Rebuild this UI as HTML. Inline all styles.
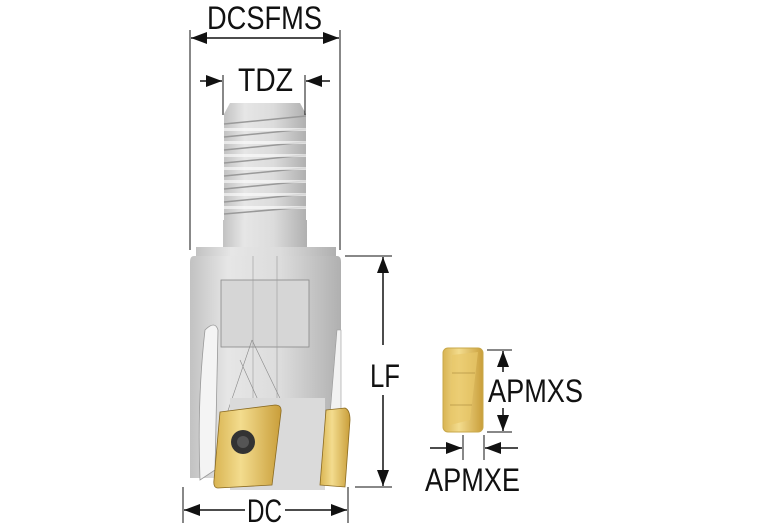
<!DOCTYPE html>
<html><head><style>html,body{margin:0;padding:0;background:#fff;}svg{display:block}</style></head>
<body>
<svg width="767" height="523" viewBox="0 0 767 523" xmlns="http://www.w3.org/2000/svg" font-family="Liberation Sans, sans-serif">
<defs>
<linearGradient id="metal" x1="0" x2="1" y1="0" y2="0">
<stop offset="0" stop-color="#c2c2c2"/><stop offset="0.25" stop-color="#e6e6e6"/><stop offset="0.6" stop-color="#dcdcdc"/><stop offset="1" stop-color="#b0b0b0"/>
</linearGradient>
<linearGradient id="gold" x1="0" x2="1" y1="0" y2="0">
<stop offset="0" stop-color="#d9b452"/><stop offset="0.4" stop-color="#f3dc8e"/><stop offset="1" stop-color="#c99e3a"/>
</linearGradient>
<marker id="ar" viewBox="0 0 16 12" refX="16" refY="6" markerWidth="16" markerHeight="12" markerUnits="userSpaceOnUse" orient="auto"><path d="M0,0L16,6L0,12z" fill="#111"/></marker>
</defs>
<!-- thread -->
<path d="M230,103 L300,103 L306,114 L306,220 L224,220 L224,114 Z" fill="url(#metal)"/>
<g stroke="#999" stroke-width="1.5" fill="none">
<path d="M224,124 L306,116"/><path d="M224,137 L306,129"/><path d="M224,150 L306,142"/><path d="M224,163 L306,155"/><path d="M224,176 L306,168"/><path d="M224,189 L306,181"/><path d="M224,202 L306,194"/><path d="M224,214 L306,207"/>
</g>
<g fill="#fff" opacity="0.6">
<rect x="224" y="128" width="82" height="3"/><rect x="224" y="141" width="82" height="3"/><rect x="224" y="154" width="82" height="3"/><rect x="224" y="167" width="82" height="3"/><rect x="224" y="180" width="82" height="3"/><rect x="224" y="193" width="82" height="3"/><rect x="224" y="206" width="82" height="3"/>
</g>
<rect x="223" y="220" width="84" height="28" fill="url(#metal)"/>
<rect x="196" y="247" width="140" height="9" fill="url(#metal)"/>
<!-- body -->
<path d="M194,256 L337,256 Q341,256 341,262 L341,478 L190,478 L190,262 Q190,256 194,256 Z" fill="url(#metal)"/>
<rect x="221" y="280" width="88" height="67" fill="#d6d6d6" stroke="#888" stroke-width="0.8"/>
<line x1="253" y1="256" x2="253" y2="470" stroke="#999" stroke-width="0.6"/>
<line x1="277" y1="256" x2="277" y2="470" stroke="#999" stroke-width="0.6"/>
<path d="M205,330 Q215,320 218,330 L215,470 L200,480 Q197,400 205,330Z" fill="#f4f4f4" stroke="#999" stroke-width="0.8"/>
<path d="M337,330 L341,330 L341,410 L330,415 Z" fill="#f2f2f2" stroke="#999" stroke-width="0.6"/>
<path d="M252,340 L300,440 M252,340 L218,440 M240,360 L285,460" stroke="#888" stroke-width="0.6" fill="none"/>
<rect x="230" y="398" width="95" height="92" fill="#dadada"/>
<!-- inserts -->
<path d="M220,412 L275,405 Q282,405 281,412 L272,485 L218,488 Q213,488 214,480 Z" fill="url(#gold)" stroke="#8a6a20" stroke-width="0.8"/>
<circle cx="243" cy="442" r="12" fill="#333"/><circle cx="243" cy="442" r="6" fill="#555"/>
<path d="M326,410 L345,408 Q350,410 350,420 L345,487 L320,485 Z" fill="url(#gold)" stroke="#8a6a20" stroke-width="0.8"/>
<!-- dimension lines -->
<g stroke="#111" stroke-width="1" fill="none">
<line x1="190" y1="30" x2="190" y2="250"/><line x1="340" y1="30" x2="340" y2="250"/>
<line x1="265" y1="38" x2="191" y2="38" stroke-width="1.5" marker-end="url(#ar)"/>
<line x1="265" y1="38" x2="339" y2="38" stroke-width="1.5" marker-end="url(#ar)"/>
<line x1="223" y1="75" x2="223" y2="115"/><line x1="305" y1="75" x2="305" y2="115"/>
<line x1="200" y1="81" x2="222" y2="81" stroke-width="1.5" marker-end="url(#ar)"/>
<line x1="330" y1="81" x2="306" y2="81" stroke-width="1.5" marker-end="url(#ar)"/>
<line x1="345" y1="256" x2="392" y2="256"/><line x1="355" y1="487" x2="392" y2="487"/>
<line x1="383" y1="345" x2="383" y2="257" stroke-width="1.5" marker-end="url(#ar)"/>
<line x1="383" y1="395" x2="383" y2="486" stroke-width="1.5" marker-end="url(#ar)"/>
<line x1="183" y1="487" x2="183" y2="523"/><line x1="348" y1="487" x2="348" y2="523"/>
<line x1="245" y1="510" x2="184" y2="510" stroke-width="1.5" marker-end="url(#ar)"/>
<line x1="285" y1="510" x2="347" y2="510" stroke-width="1.5" marker-end="url(#ar)"/>
<line x1="487" y1="350" x2="512" y2="350"/><line x1="487" y1="432" x2="512" y2="432"/>
<line x1="503" y1="372" x2="503" y2="351" stroke-width="1.5" marker-end="url(#ar)"/>
<line x1="503" y1="408" x2="503" y2="431" stroke-width="1.5" marker-end="url(#ar)"/>
<line x1="463" y1="435" x2="463" y2="460"/><line x1="484" y1="435" x2="484" y2="460"/>
<line x1="430" y1="448" x2="462" y2="448" stroke-width="1.5" marker-end="url(#ar)"/>
<line x1="518" y1="448" x2="485" y2="448" stroke-width="1.5" marker-end="url(#ar)"/>
</g>
<!-- small insert -->
<rect x="443" y="348" width="40" height="84" rx="5" fill="url(#gold)" stroke="#c8a84a"/>
<path d="M452,355 L478,352 L470,420 L450,425 Z" fill="#e8c86a" opacity="0.7"/>
<line x1="452" y1="373" x2="475" y2="373" stroke="#9a7a30" stroke-width="0.6"/>
<line x1="450" y1="405" x2="472" y2="405" stroke="#9a7a30" stroke-width="0.6"/>
<!-- labels -->
<g fill="#111" font-size="32">
<text x="207" y="29" textLength="115" lengthAdjust="spacingAndGlyphs">DCSFMS</text>
<text x="238" y="91" textLength="55" lengthAdjust="spacingAndGlyphs">TDZ</text>
<text x="370" y="387" textLength="30" lengthAdjust="spacingAndGlyphs">LF</text>
<text x="247" y="522" textLength="35" lengthAdjust="spacingAndGlyphs">DC</text>
<text x="488" y="402" textLength="95" lengthAdjust="spacingAndGlyphs">APMXS</text>
<text x="425" y="491" textLength="95" lengthAdjust="spacingAndGlyphs">APMXE</text>
</g>
</svg>
</body></html>
